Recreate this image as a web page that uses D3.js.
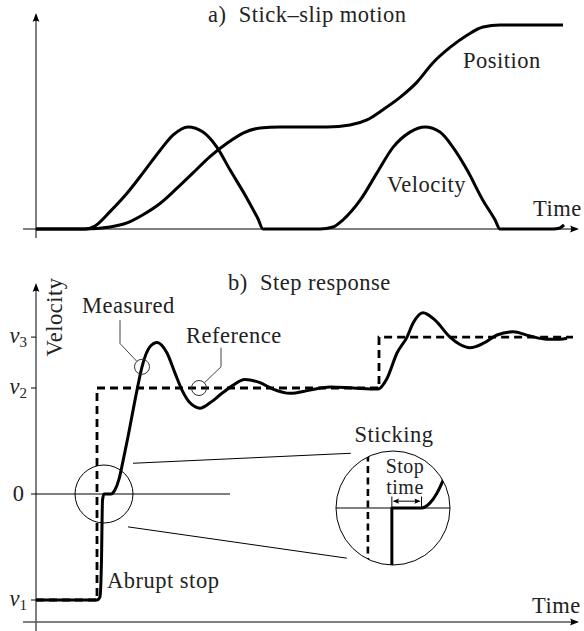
<!DOCTYPE html>
<html>
<head>
<meta charset="utf-8">
<script src="https://cdn.jsdelivr.net/npm/d3@7"></script>
<style>
  html, body { margin: 0; padding: 0; background: #fff; }
  svg { display: block; }
</style>
</head>
<body>
<svg id="chart" width="584" height="631"></svg>
<script>
// ---------- Panel a: stick–slip motion, [time, value] ----------
const slipVelocity = [
  [0, 0], [4.9, 0], [5.9, 0.03], [7.4, 0.17], [9.1, 0.35], [10.7, 0.55], [12.4, 0.77],
  [13.7, 0.92], [15.2, 1.0], [16.7, 0.95], [18.1, 0.8], [19.4, 0.58], [21.1, 0.3],
  [22.2, 0.1], [22.7, 0], [28.4, 0], [29.7, 0.02], [30.7, 0.09], [32.4, 0.28],
  [34.1, 0.55], [35.7, 0.8], [37.4, 0.95], [38.9, 1.0], [40.4, 0.95], [41.7, 0.8],
  [43.1, 0.58], [44.7, 0.28], [45.9, 0.09], [46.4, 0], [51.7, 0], [52.4, 0.01], [52.8, 0.04]
];
const slipPosition = [
  [0, 0], [4.9, 0], [7.4, 0.02], [9.1, 0.06], [10.7, 0.14], [12.4, 0.25], [14.1, 0.4],
  [15.7, 0.55], [17.4, 0.71], [19.1, 0.84], [20.7, 0.94], [22.4, 0.99], [24.4, 1.0],
  [29.1, 1.0], [31.4, 1.02], [33.1, 1.07], [34.7, 1.17], [36.4, 1.29], [38.1, 1.44],
  [39.7, 1.63], [41.4, 1.78], [43.1, 1.9], [44.7, 1.98], [46.4, 2.0], [52.7, 2.0]
];

// ---------- Panel b: step response, [time, velocity] ----------
const referenceSteps = [[0, -1], [6.1, -1], [6.1, 1], [34.3, 1], [34.3, 1.48], [53.7, 1.48]];
const measuredResponse = [
  [0, -1], [6.1, -1], [6.4, -0.97], [6.55, -0.62], [6.65, -0.06], [6.8, 0], [7.5, 0],
  [7.9, 0.04], [8.3, 0.14], [8.7, 0.31], [9.2, 0.54], [10.1, 0.98], [10.6, 1.2],
  [11.4, 1.39], [12.1, 1.43], [13.1, 1.33], [13.9, 1.14], [14.6, 0.98], [15.4, 0.86],
  [16.4, 0.81], [17.4, 0.86], [18.6, 0.95], [19.6, 1.02], [20.9, 1.08], [22.4, 1.05],
  [23.7, 0.99], [25.4, 0.95], [27.4, 0.98], [29.4, 1.01], [31.7, 1.0], [34.2, 0.99],
  [35.1, 1.09], [36.1, 1.33], [37.1, 1.48], [37.7, 1.61], [38.7, 1.71], [39.9, 1.64],
  [41.4, 1.48], [42.4, 1.41], [43.4, 1.38], [44.7, 1.42], [46.1, 1.5], [47.7, 1.53],
  [49.4, 1.49], [51.1, 1.46], [52.4, 1.46], [53.1, 1.47]
];
const levelValues = [-1, 0, 1, 1.48];
const levelLabels = [["v", "1"], ["0", ""], ["v", "2"], ["v", "3"]];

// Callout targets on the step response
const measuredMark = [10.6, 1.2];
const referenceMark = [16.3, 1.0];
const stickCentre = [6.8, 0];

// Magnified view of the sticking phase, local units (-1..1 across the lens)
const lensReference = [[-0.44, -1.2], [-0.44, 1.2]];
const lensMeasured = [[-0.02, -1.2], [-0.02, 0], [0.5, 0], [0.65, 0.09], [0.77, 0.26], [0.88, 0.49], [1.0, 0.8]];
const stopTime = [-0.02, 0.5];

const FONT = "Liberation Serif";

const svg = d3.select("#chart");

const x = d3.scaleLinear().domain([0, 54]).range([36, 576]);
const yA = d3.scaleLinear().domain([0, 2]).range([229, 25]);
const yB = d3.scaleLinear().domain([-1, 1]).range([600, 388]);

function label(g, px, py, str, size) {
  return g.append("text").attr("x", px).attr("y", py)
    .attr("font-family", FONT).attr("font-size", size || 22.5).attr("fill", "#222")
    .attr("letter-spacing", 0.5)
    .style("white-space", "pre").text(str);
}

function arrowHead(g, px, py, angle) {
  g.append("path")
    .attr("d", "M0,0 L-9,-3.4 Q-6.5,0 -9,3.4 Z")
    .attr("transform", `translate(${px},${py}) rotate(${angle})`)
    .attr("fill", "#000");
}

// ================= Panel a =================
const ga = svg.append("g");
ga.append("line").attr("x1", 36).attr("x2", 36).attr("y1", 238).attr("y2", 15)
  .attr("stroke", "#000").attr("stroke-width", 1);
arrowHead(ga, 36, 13, -90);
ga.append("line").attr("x1", 23).attr("x2", 577).attr("y1", yA(0)).attr("y2", yA(0))
  .attr("stroke", "#000").attr("stroke-width", 1);
arrowHead(ga, 579, yA(0), 0);

const lineA = d3.line().x(d => x(d[0])).y(d => yA(d[1])).curve(d3.curveMonotoneX);
[slipVelocity, slipPosition].forEach(s => {
  ga.append("path").attr("d", lineA(s)).attr("fill", "none")
    .attr("stroke", "#000").attr("stroke-width", 3).attr("stroke-linejoin", "round");
});

label(ga, 208, 22, "a)  Stick\u2013slip motion");
label(ga, 463, 68, "Position");
label(ga, 387, 192, "Velocity");
label(ga, 533, 216, "Time");

// ================= Panel b =================
const gb = svg.append("g");
gb.append("line").attr("x1", 36).attr("x2", 36).attr("y1", 631).attr("y2", 285)
  .attr("stroke", "#000").attr("stroke-width", 1);
arrowHead(gb, 36, 283, -90);
gb.append("line").attr("x1", 23).attr("x2", 577).attr("y1", 622).attr("y2", 622)
  .attr("stroke", "#555").attr("stroke-width", 1.6);
arrowHead(gb, 579, 622, 0);

// level ticks and labels
levelValues.forEach((v, i) => {
  const yy = yB(v);
  gb.append("line").attr("x1", 31).attr("x2", 36).attr("y1", yy).attr("y2", yy)
    .attr("stroke", "#000").attr("stroke-width", 1);
  const [base, sub] = levelLabels[i];
  if (sub) {
    const t = label(gb, 27, yy + 6, "").attr("text-anchor", "end").attr("letter-spacing", 0);
    t.append("tspan").attr("font-style", "italic").text(base);
    t.append("tspan").attr("font-size", 15).attr("dy", 4).text(sub);
  } else {
    label(gb, 24, yy + 7, base).attr("text-anchor", "end").attr("letter-spacing", 0);
  }
});

label(gb, 0, 0, "Velocity").attr("transform", "translate(62,317) rotate(-90)")
  .attr("text-anchor", "middle");

// zero line
gb.append("line").attr("x1", x(0)).attr("x2", x(19.4)).attr("y1", yB(0)).attr("y2", yB(0))
  .attr("stroke", "#000").attr("stroke-width", 1);

const lineRef = d3.line().x(d => x(d[0])).y(d => yB(d[1]));
gb.append("path").attr("d", lineRef(referenceSteps)).attr("fill", "none")
  .attr("stroke", "#000").attr("stroke-width", 2.8).attr("stroke-dasharray", "8,5");

const lineMeas = d3.line().x(d => x(d[0])).y(d => yB(d[1])).curve(d3.curveMonotoneX);
gb.append("path").attr("d", lineMeas(measuredResponse)).attr("fill", "none")
  .attr("stroke", "#000").attr("stroke-width", 3).attr("stroke-linejoin", "round");

// callouts
function callout(mark, elbowTop, elbowBottom) {
  const cx = x(mark[0]), cy = yB(mark[1]), r = 7.5;
  const ex = x(elbowBottom[0]), ey = yB(elbowBottom[1]);
  const d = Math.hypot(ex - cx, ey - cy);
  const px = cx + (ex - cx) / d * r, py = cy + (ey - cy) / d * r;
  gb.append("circle").attr("cx", cx).attr("cy", cy).attr("r", r)
    .attr("fill", "none").attr("stroke", "#333").attr("stroke-width", 1);
  gb.append("path").attr("d", d3.line()([[x(elbowTop[0]), yB(elbowTop[1])], [ex, ey], [px, py]]))
    .attr("fill", "none").attr("stroke", "#444").attr("stroke-width", 1);
}
callout(measuredMark, [8.4, 1.64], [8.4, 1.42]);
callout(referenceMark, [18.5, 1.38], [18.5, 1.2]);
label(gb, 82, 313, "Measured");
label(gb, 186, 343, "Reference");

// sticking circle and lens
gb.append("circle").attr("cx", x(stickCentre[0])).attr("cy", yB(stickCentre[1])).attr("r", 29)
  .attr("fill", "none").attr("stroke", "#000").attr("stroke-width", 1);

const lensC = [393, 508], lensR = 57;
const xi = d3.scaleLinear().domain([-1, 1]).range([lensC[0] - lensR, lensC[0] + lensR]);
const yi = d3.scaleLinear().domain([-1, 1]).range([lensC[1] + lensR, lensC[1] - lensR]);

gb.append("line").attr("x1", x(9.7)).attr("y1", yB(0.29)).attr("x2", xi(-0.74)).attr("y2", yi(0.96))
  .attr("stroke", "#000").attr("stroke-width", 1);
gb.append("line").attr("x1", x(9.2)).attr("y1", yB(-0.31)).attr("x2", xi(-0.81)).attr("y2", yi(-0.88))
  .attr("stroke", "#000").attr("stroke-width", 1);

svg.append("defs").append("clipPath").attr("id", "lens")
  .append("circle").attr("cx", lensC[0]).attr("cy", lensC[1]).attr("r", lensR);
const lens = gb.append("g").attr("clip-path", "url(#lens)");
lens.append("line").attr("x1", xi(-1)).attr("x2", xi(1)).attr("y1", yi(0)).attr("y2", yi(0))
  .attr("stroke", "#000").attr("stroke-width", 1);
const lineLens = d3.line().x(d => xi(d[0])).y(d => yi(d[1]));
lens.append("path").attr("d", lineLens(lensReference)).attr("fill", "none")
  .attr("stroke", "#000").attr("stroke-width", 2.6).attr("stroke-dasharray", "7,4.5");
lens.append("path").attr("d", lineLens.curve(d3.curveMonotoneX)(lensMeasured)).attr("fill", "none")
  .attr("stroke", "#000").attr("stroke-width", 3).attr("stroke-linejoin", "round");
gb.append("circle").attr("cx", lensC[0]).attr("cy", lensC[1]).attr("r", lensR)
  .attr("fill", "none").attr("stroke", "#000").attr("stroke-width", 1);

// stop-time dimension
const ay = yi(0.12);
[stopTime[0], stopTime[1]].forEach(t => {
  gb.append("line").attr("x1", xi(t)).attr("x2", xi(t)).attr("y1", yi(0)).attr("y2", yi(0.2))
    .attr("stroke", "#000").attr("stroke-width", 1);
});
gb.append("line").attr("x1", xi(stopTime[0]) + 2).attr("x2", xi(stopTime[1]) - 2).attr("y1", ay).attr("y2", ay)
  .attr("stroke", "#000").attr("stroke-width", 1);
gb.append("path").attr("d", "M0,0 L-6,-2.6 Q-4.3,0 -6,2.6 Z")
  .attr("transform", `translate(${xi(stopTime[1]) - 1},${ay})`);
gb.append("path").attr("d", "M0,0 L-6,-2.6 Q-4.3,0 -6,2.6 Z")
  .attr("transform", `translate(${xi(stopTime[0]) + 1},${ay}) rotate(180)`);

label(gb, 405, 473, "Stop", 20).attr("text-anchor", "middle");
label(gb, 405, 494, "time", 20).attr("text-anchor", "middle");
label(gb, 394, 442, "Sticking").attr("text-anchor", "middle");
label(gb, 107, 588, "Abrupt stop");

label(gb, 228, 290, "b)  Step response");
label(gb, 532, 613, "Time");
</script>
</body>
</html>
